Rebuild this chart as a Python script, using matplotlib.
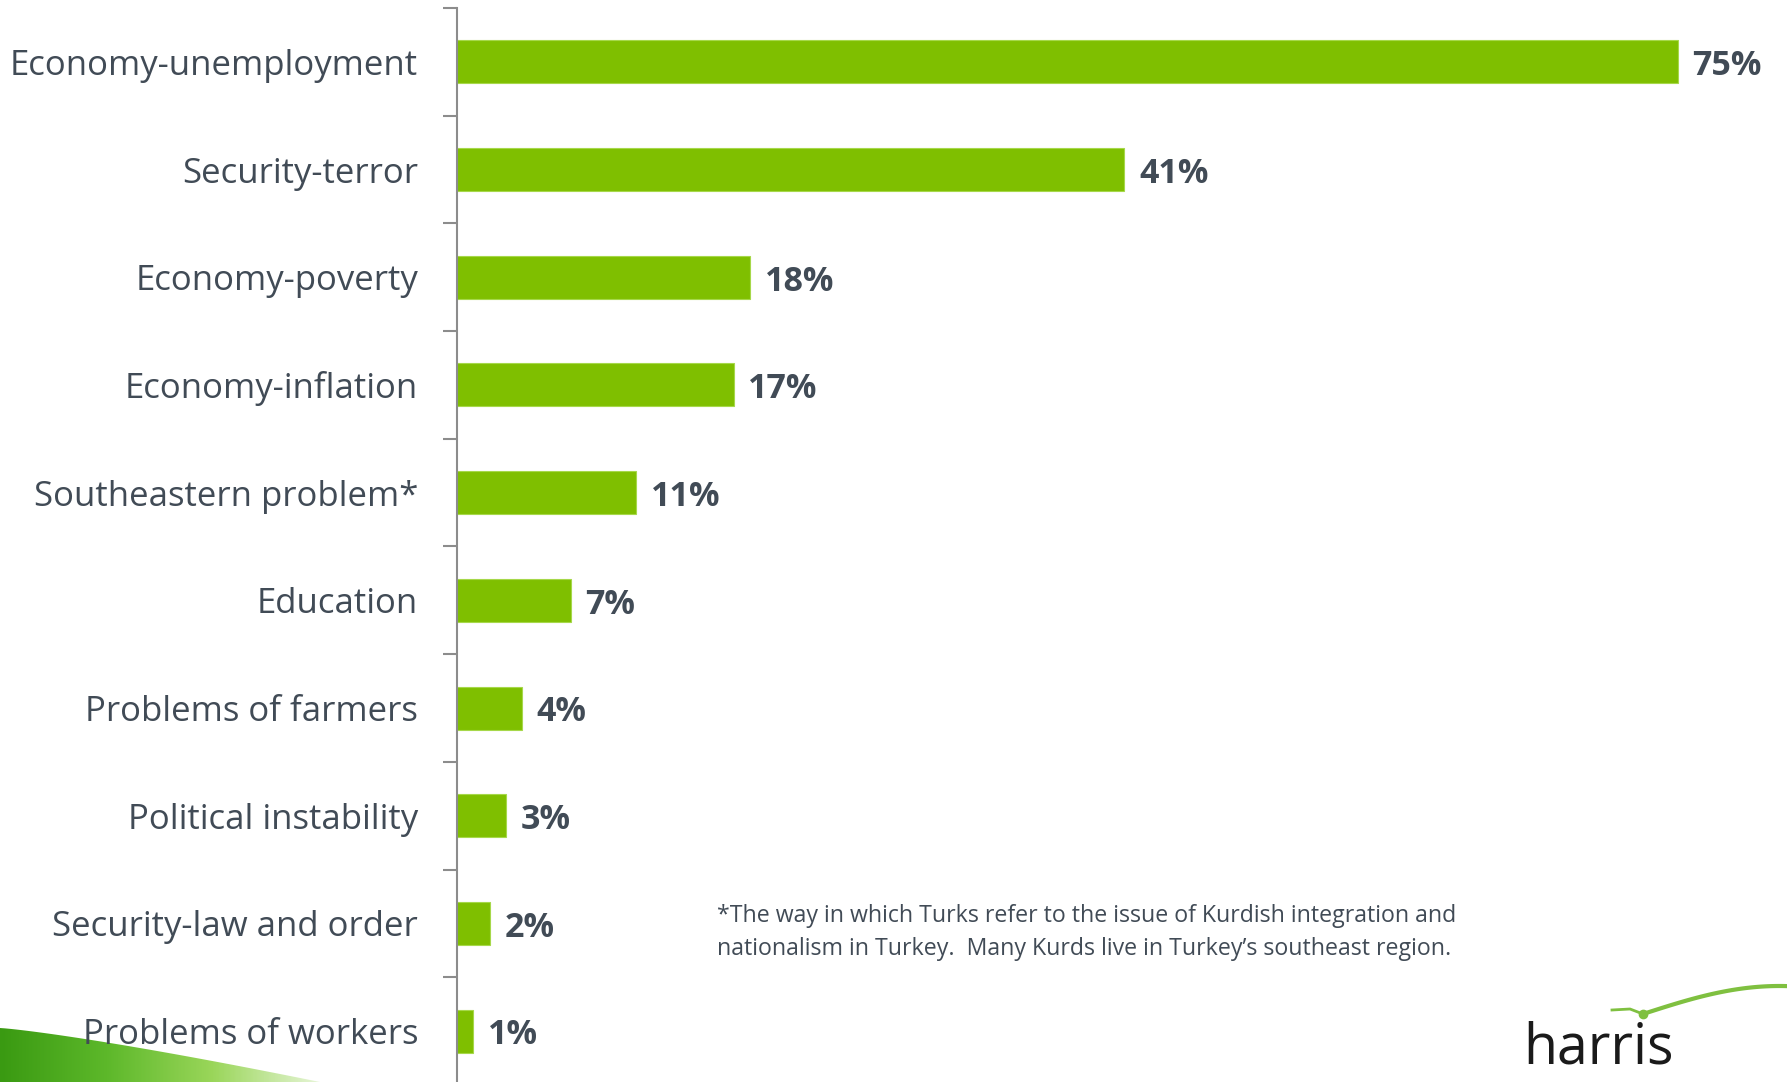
import matplotlib.pyplot as plt
import numpy as np
from matplotlib.patches import Polygon
from matplotlib.colors import LinearSegmentedColormap

categories = ["Economy-unemployment", "Security-terror", "Economy-poverty",
              "Economy-inflation", "Southeastern problem*", "Education",
              "Problems of farmers", "Political instability",
              "Security-law and order", "Problems of workers"]
values = [75, 41, 18, 17, 11, 7, 4, 3, 2, 1]
note = ("*The way in which Turks refer to the issue of Kurdish integration and\n"
        "nationalism in Turkey.  Many Kurds live in Turkey\u2019s southeast region.")

W, H = 1787, 1082
green = "#7FBF00"
txt = "#414B56"

fig = plt.figure(figsize=(W/100, H/100), dpi=100)
fig.patch.set_facecolor("white")

# background swoosh bottom-left (gradient wedge)
bg = fig.add_axes([0, 0, 1, 1], zorder=0)
bg.set_xlim(0, W); bg.set_ylim(H, 0); bg.axis("off")
grad = np.tile(np.linspace(0, 1, 200), (20, 1))
cmap = LinearSegmentedColormap.from_list("sw", ["#3A9A12", "#5DB82A", "#9AD65A", "#E6F5D6"])
im = bg.imshow(grad, extent=[0, 320, H, 1020], cmap=cmap, aspect="auto")
xs = np.linspace(0, 320, 60)
top = 1028 + (xs/320)**1.2*54
clip = Polygon(list(zip(xs, top)) + [(0, H)], closed=True, fc="none", ec="none",
               transform=bg.transData)
bg.add_patch(clip)
im.set_clip_path(clip)

# logo
bg.text(1523, 1063, "harris", fontsize=40, family="Open Sans",
        color="#1a1a1a", va="baseline", ha="left")
t = np.linspace(0, 1, 60)
bg.plot(1643 + t*150, 1014 - np.sin(t*np.pi*0.55)*28, color="#7FC040", lw=3,
        solid_capstyle="round")
bg.plot([1612, 1630, 1643], [1010, 1009, 1014], color="#7FC040", lw=2)
bg.plot(1643, 1014, "o", color="#7FC040", ms=6)

left, right = 457/W, 1759/W
ytop, ybot = 8, 1085
ax = fig.add_axes([left, 1 - ybot/H, right - left, (ybot - ytop)/H], zorder=1)
ax.patch.set_alpha(0)
y = np.arange(len(categories))
ax.barh(y, values, height=0.40, color=green, edgecolor="#A6D84A", linewidth=0.8)
ax.set_ylim(len(categories) - 0.5, -0.5)
ax.set_xlim(0, 80)

for yi, v in zip(y, values):
    ax.text(v + 0.9, yi + 0.04, f"{v}%", va="center", ha="left", fontsize=24.5,
            fontweight="bold", color=txt, family="Open Sans")

ax.set_yticks(y)
ax.set_yticklabels(categories, fontsize=25, color=txt, family="Open Sans")
ax.tick_params(axis="y", which="major", length=0, pad=28)
ax.set_yticks(np.arange(len(categories) + 1) - 0.5, minor=True)
ax.tick_params(axis="y", which="minor", length=10, color="#8C8C8C", width=1.5)
ax.set_xticks([])
for s in ["top", "right", "bottom"]:
    ax.spines[s].set_visible(False)
ax.spines["left"].set_color("#8C8C8C")
ax.spines["left"].set_linewidth(1.5)

fig.text(717/W, 1 - 904/H, note, fontsize=16.7, color=txt, family="Open Sans",
         va="top", ha="left", linespacing=1.5)

fig.savefig("out.png", dpi=100)
